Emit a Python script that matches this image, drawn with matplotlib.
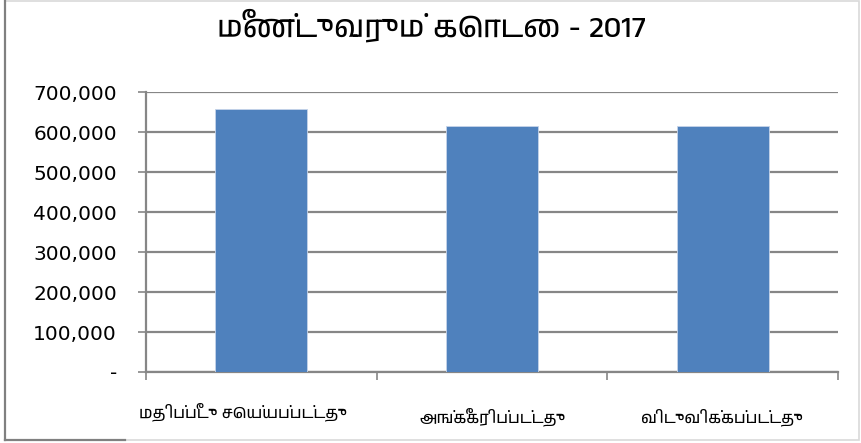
import numpy as np
import matplotlib
matplotlib.use('Agg')
import matplotlib.pyplot as plt
from matplotlib import font_manager
from matplotlib.ft2font import FT2Font
from matplotlib.patches import Rectangle

title = 'மீண்டுவரும் கொடை - 2017'
categories = ['மதிப்பீடு செய்யப்பட்டது', 'அங்கீகரிப்பட்டது', 'விடுவிக்கப்பட்டது']
values = [658500, 615000, 615000]
yticks = [0, 100000, 200000, 300000, 400000, 500000, 600000, 700000]
ytick_labels = ['-', '100,000', '200,000', '300,000', '400,000', '500,000', '600,000', '700,000']

# look for any installed font that has tamil glyphs
tamil = []
for f in font_manager.fontManager.ttflist:
    try:
        if 0x0BAE in FT2Font(f.fname).get_charmap():
            tamil.append(f.name)
    except Exception:
        pass
tamil = sorted(set(tamil))
fam = tamil[:1] + ['DejaVu Sans']

fig = plt.figure(figsize=(8.62, 4.43), dpi=100)
ax = fig.add_axes([146/862, 71/443, 692/862, 280/443])

x = np.arange(len(categories))
ax.bar(x, values, width=0.4, color='#4f81bd', edgecolor='#c6d4ea', linewidth=0.6, zorder=3)
ax.set_xlim(-0.5, 2.5)
ax.set_ylim(0, 700000)
ax.set_yticks(yticks)
ax.set_yticklabels(ytick_labels, fontsize=14.5, family='DejaVu Sans')
ax.grid(axis='y', color='#868686', linewidth=1.6, zorder=0)
ax.set_xticks([-0.5, 0.5, 1.5, 2.5])
ax.set_xticklabels([])
ax.tick_params(axis='both', direction='out', length=6, width=1.2, color='#868686')
ax.tick_params(axis='y', pad=15)
for s in ['top', 'right']:
    ax.spines[s].set_visible(False)
for s in ['left', 'bottom']:
    ax.spines[s].set_color('#868686')
    ax.spines[s].set_linewidth(1.6)

# category labels, the first one sits a little higher
lab_y = [-0.14, -0.16, -0.16]
for i, c in enumerate(categories):
    ax.text(x[i] - (0.08 if i == 0 else 0), lab_y[i], c, transform=ax.get_xaxis_transform(),
            ha='center', va='center', fontsize=11.5, family=fam)

fig.text(0.5, 0.944, title, ha='center', va='center', fontsize=22, family=fam,
         fontweight='bold')

# outer frame
fig.patches.append(Rectangle((0.006, 0.007), 0.99, 0.99, transform=fig.transFigure,
                             fill=False, edgecolor='#d9d9d9', linewidth=1.2))
fig.add_artist(plt.Line2D([0.006, 0.006], [0.007, 0.997], transform=fig.transFigure,
                          color='#808080', linewidth=1.6))
fig.add_artist(plt.Line2D([0.006, 0.145], [0.007, 0.007], transform=fig.transFigure,
                          color='#808080', linewidth=1.6))

fig.savefig('out.png', dpi=100)
